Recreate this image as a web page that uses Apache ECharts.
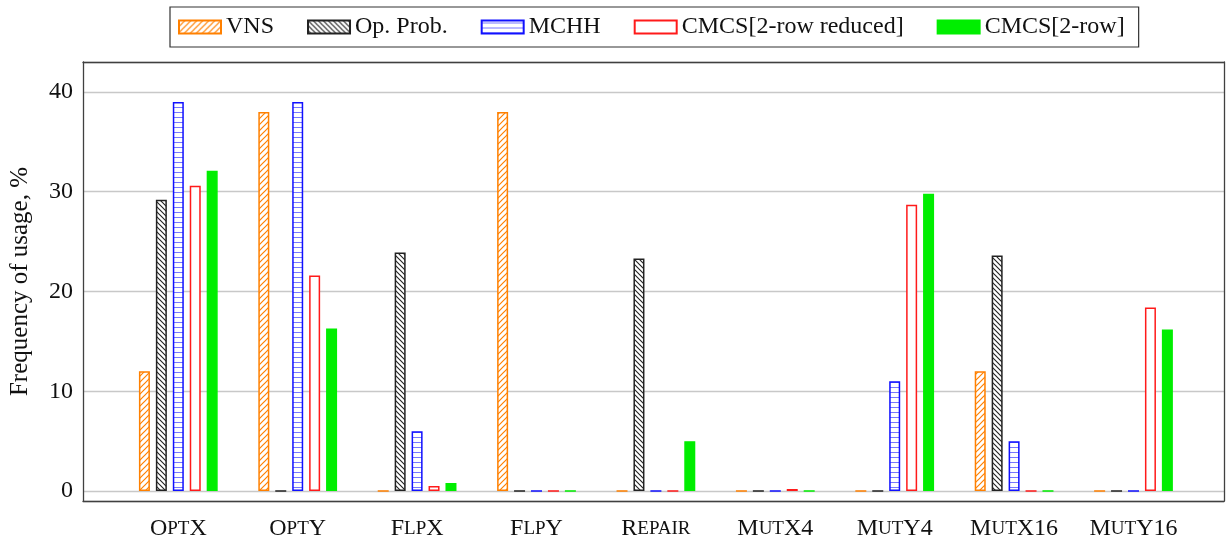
<!DOCTYPE html>
<html>
<head>
<meta charset="utf-8">
<script src="https://cdn.jsdelivr.net/npm/echarts@6/dist/echarts.min.js"></script>
<style>
  html, body { margin: 0; padding: 0; background: #fff; }
  #main { width: 1226px; height: 541px; }
</style>
</head>
<body>
<div id="main"></div>
<script>
  // data (frequency of usage, %)
  const categories = ['OptX', 'OptY', 'FlpX', 'FlpY', 'Repair', 'MutX4', 'MutY4', 'MutX16', 'MutY16']
  const vns         = [12,   38,   0,    38, 0,    0,   0,    12,   0]
  const opProb      = [29.2, 0,    23.9, 0,  23.3, 0,   0,    23.6, 0]
  const mchh        = [39,   39,   6,    0,  0,    0,   11,   5,    0]
  const cmcsReduced = [30.6, 21.6, 0.5,  0,  0,    0.2, 28.7, 0,    18.4]
  const cmcs        = [32.1, 16.3, 0.8,  0,  5,    0,   29.8, 0,    16.2]
  const yTicks      = [0, 10, 20, 30, 40]

  const FONT = 'Liberation Serif'

  // small canvas tiles for the hatched fills
  function hatch(kind, color, size, lw) {
    const c = document.createElement('canvas')
    c.width = size
    c.height = size
    const g = c.getContext('2d')
    g.fillStyle = '#fff'
    g.fillRect(0, 0, size, size)
    g.strokeStyle = color
    g.lineWidth = lw
    g.beginPath()
    if (kind === 'ne') {
      g.moveTo(-size, size * 2); g.lineTo(size * 2, -size)
      g.moveTo(-size, size); g.lineTo(size, -size)
      g.moveTo(0, size * 2); g.lineTo(size * 2, 0)
    } else if (kind === 'nw') {
      g.moveTo(-size, -size); g.lineTo(size * 2, size * 2)
      g.moveTo(-size, 0); g.lineTo(size, size * 2)
      g.moveTo(0, -size); g.lineTo(size * 2, size)
    } else {
      g.moveTo(0, size / 2); g.lineTo(size, size / 2)
    }
    g.stroke()
    return { image: c, repeat: 'repeat' }
  }

  // OptX -> {b|O}{s|PT}{b|X}  (small caps)
  function smallCaps(str) {
    let out = ''
    let i = 0
    while (i < str.length) {
      const lower = /[a-z]/.test(str[i])
      let j = i
      while (j < str.length && /[a-z]/.test(str[j]) === lower) j++
      const part = str.slice(i, j)
      out += lower ? '{s|' + part.toUpperCase() + '}' : '{b|' + part + '}'
      i = j
    }
    return out
  }

  const frameLine = { show: true, onZero: false, lineStyle: { color: '#404040', width: 1.3 } }
  const nothing = { show: false }

  const seriesDefs = [
    { name: 'VNS', data: vns, color: hatch('ne', '#ff8000', 6, 1.2), border: '#ff8000' },
    { name: 'Op. Prob.', data: opProb, color: hatch('nw', '#222', 5, 1.1), border: '#222' },
    { name: 'MCHH', data: mchh, color: hatch('h', 'rgba(30,30,255,0.6)', 5, 1), border: '#1010ff' },
    { name: 'CMCS[2-row reduced]', data: cmcsReduced, color: '#ffffff', border: '#ff1a1a' },
    { name: 'CMCS[2-row]', data: cmcs, color: '#00ee00', border: '#00ee00' }
  ]

  const chart = echarts.init(document.getElementById('main'))

  const option = {
    animation: false,
    textStyle: { fontFamily: FONT, color: '#111' },
    legend: {
      left: 170,
      top: 7,
      padding: [8, 14, 8, 8],
      itemGap: 33,
      itemWidth: 42,
      itemHeight: 13,
      icon: 'rect',
      borderColor: '#333',
      borderWidth: 1.2,
      textStyle: { fontFamily: FONT, fontSize: 24, color: '#111' },
      data: seriesDefs.map(s => s.name)
    },
    grid: [
      // frame + horizontal grid lines
      { left: 83, right: 2, top: 62, bottom: 40 },
      // the bars (categories are inset from the frame)
      { left: 118.6, right: 32.8, top: 62, bottom: 40 }
    ],
    xAxis: [
      { gridIndex: 0, type: 'value', position: 'bottom', min: 0, max: 1, z: 10,
        axisLine: frameLine, axisTick: nothing, axisLabel: nothing, splitLine: nothing },
      { gridIndex: 0, type: 'value', position: 'top', min: 0, max: 1, z: 10,
        axisLine: frameLine, axisTick: nothing, axisLabel: nothing, splitLine: nothing },
      {
        gridIndex: 1,
        type: 'category',
        data: categories,
        axisLine: nothing,
        axisTick: nothing,
        axisLabel: {
          interval: 0,
          margin: 16,
          formatter: v => smallCaps(v),
          rich: {
            b: { fontFamily: FONT, fontSize: 24, color: '#111' },
            s: { fontFamily: FONT, fontSize: 19, color: '#111' }
          }
        }
      }
    ],
    yAxis: [
      {
        gridIndex: 0,
        type: 'value',
        min: -1,
        max: 43,
        name: 'Frequency of usage, %',
        nameLocation: 'middle',
        nameGap: 50,
        nameTextStyle: { fontFamily: FONT, fontSize: 25, color: '#111' },
        axisLine: nothing,
        axisTick: nothing,
        axisLabel: {
          margin: 10,
          fontFamily: FONT,
          fontSize: 24,
          color: '#111',
          formatter: v => (yTicks.indexOf(v) >= 0 ? String(v) : '')
        },
        splitLine: { show: true, lineStyle: { color: '#c8c8c8', width: 1.3 } }
      },
      { gridIndex: 0, type: 'value', position: 'left', min: -1, max: 43, z: 10,
        axisLine: frameLine, axisTick: nothing, axisLabel: nothing, splitLine: nothing },
      { gridIndex: 0, type: 'value', position: 'right', min: -1, max: 43, z: 10,
        axisLine: frameLine, axisTick: nothing, axisLabel: nothing, splitLine: nothing },
      { gridIndex: 1, type: 'value', min: -1, max: 43, show: false }
    ],
    series: seriesDefs.map(s => ({
      name: s.name,
      type: 'bar',
      xAxisIndex: 2,
      yAxisIndex: 3,
      barWidth: 11,
      barGap: '54%',
      data: s.data,
      itemStyle: { color: s.color, borderColor: s.border, borderWidth: 1.5 }
    }))
  }

  chart.setOption(option)
</script>
</body>
</html>
